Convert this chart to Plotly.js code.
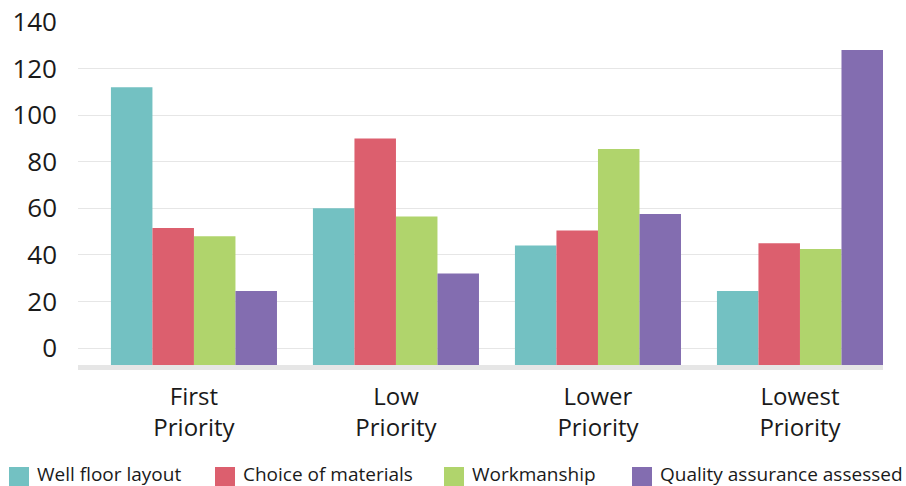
<!DOCTYPE html>
<html>
<head>
<meta charset="utf-8">
<script src="https://cdn.plot.ly/plotly-3.0.1.min.js"></script>
<style>html,body{margin:0;padding:0;background:#fff;}</style>
</head>
<body>
<div id="chart" style="width:906px;height:486px;"></div>
<script>
// ---- data ----
const categories = ["First<br>Priority", "Low<br>Priority", "Lower<br>Priority", "Lowest<br>Priority"];
const seriesNames = ["Well floor layout", "Choice of materials", "Workmanship", "Quality assurance assessed"];
const wellFloorLayout = [112, 60, 44, 24.5];
const choiceOfMaterials = [51.5, 90, 50.5, 45];
const workmanship = [48, 56.5, 85.5, 42.5];
const qualityAssurance = [24.5, 32, 57.5, 128];
const yTickVals = [0, 20, 40, 60, 80, 100, 120, 140];

// ---- style ----
const colors = ["#73c1c2", "#dc5f6e", "#b0d46c", "#836db0"];
const yMin = -7.3, yMax = 140;
const M = {l: 78, r: 23, t: 22, b: 121};
const W = 906, H = 486;
const plotW = W - M.l - M.r, plotH = H - M.t - M.b;
const font = "'Open Sans', 'Noto Sans', sans-serif";
const legendPx = [9, 215, 444, 632];   // left edge of legend squares (px)
const legendSq = 20, legendTop = 467, legendTextY = 474;

const seriesValues = [wellFloorLayout, choiceOfMaterials, workmanship, qualityAssurance];

const traces = seriesValues.map((vals, i) => ({
  type: "bar",
  name: seriesNames[i],
  x: categories,
  y: vals.map(v => v - yMin),
  base: yMin,
  marker: {color: colors[i], line: {width: 0}},
  showlegend: false,
  hoverinfo: "skip"
}));

const px2x = p => (p - M.l) / plotW;
const px2y = p => (H - M.b - p) / plotH;

const shapes = [], annotations = [];
seriesNames.forEach((name, i) => {
  shapes.push({
    type: "rect", xref: "paper", yref: "paper",
    x0: px2x(legendPx[i]), x1: px2x(legendPx[i] + legendSq),
    y0: px2y(legendTop + legendSq), y1: px2y(legendTop),
    fillcolor: colors[i], line: {width: 0}
  });
  annotations.push({
    xref: "paper", yref: "paper",
    x: px2x(legendPx[i] + legendSq + 6), y: px2y(legendTextY),
    xanchor: "left", yanchor: "middle", showarrow: false,
    text: name, font: {family: font, size: 19, color: "#1a1a1a"}
  });
});

const layout = {
  width: W, height: H,
  margin: M,
  paper_bgcolor: "#fff", plot_bgcolor: "#fff",
  barmode: "group", bargap: 0.178, bargroupgap: 0,
  showlegend: false,
  font: {family: font, color: "#1a1a1a"},
  xaxis: {
    type: "category",
    range: [-0.574, 3.411],
    showgrid: false, zeroline: false,
    showline: true, linecolor: "#e6e6e6", linewidth: 5,
    ticks: "", ticklabelstandoff: 6,
    tickfont: {family: font, size: 24, color: "#1a1a1a"}
  },
  yaxis: {
    range: [yMin, yMax],
    tickvals: yTickVals,
    ticktext: yTickVals.map(String),
    showgrid: true, gridcolor: "#e6e6e6", gridwidth: 1,
    zeroline: false, showline: false,
    ticks: "", ticklabelstandoff: 20,
    tickfont: {family: font, size: 26, color: "#1a1a1a"}
  },
  shapes: shapes,
  annotations: annotations
};

Plotly.newPlot("chart", traces, layout, {displayModeBar: false, staticPlot: true});
</script>
</body>
</html>
